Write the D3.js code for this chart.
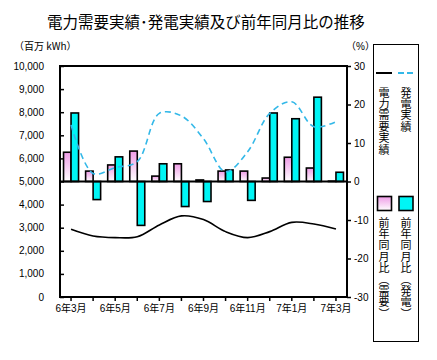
<!DOCTYPE html>
<html>
<head>
<meta charset="utf-8">
<script src="https://cdn.jsdelivr.net/npm/d3@7"></script>
<style>
  body { margin: 0; background: #fff; }
  svg { display: block; }
  text { font-family: "Liberation Sans", "Noto Sans CJK JP", sans-serif; fill: #000; }
  .jp { font-family: "Noto Sans CJK JP", sans-serif; }
</style>
</head>
<body>
<svg id="chart" width="437" height="360"></svg>
<script>
// months shown on the category axis
const months = ["6年3月", "6年4月", "6年5月", "6年6月", "6年7月", "6年8月", "6年9月",
                "6年10月", "6年11月", "6年12月", "7年1月", "7年2月", "7年3月"];
// 電力需要実績 (百万kWh)
const demand = [2930, 2640, 2570, 2610, 3120, 3510, 3350, 2830, 2570, 2830, 3230, 3160, 2940];
// 発電実績 (百万kWh)
const generation = [7450, 5350, 5600, 5860, 7950, 7840, 6850, 5420, 6290, 7950, 8450, 7370, 7590];
// 前年同月比 (%)
const demandYoY = [7.6, 2.7, 4.3, 7.9, 1.4, 4.6, 0.4, 2.7, 2.7, 0.9, 6.3, 3.5, 0.1];
const genYoY = [17.8, -4.7, 6.4, -11.4, 4.6, -6.5, -5.2, 3.0, -4.9, 17.8, 16.3, 21.9, 2.4];

const leftTicks = [0, 1000, 2000, 3000, 4000, 5000, 6000, 7000, 8000, 9000, 10000];
const rightTicks = [-30, -20, -10, 0, 10, 20, 30];

const svg = d3.select("#chart");
const plot = { left: 60, right: 347, top: 66, bottom: 297 };

const x = d3.scaleBand().domain(months).range([plot.left, plot.right])
  .paddingInner(0.32).paddingOuter(0.16);
const xSub = d3.scaleBand().domain(["d", "g"]).range([0, x.bandwidth()]);
const yL = d3.scaleLinear().domain([0, 10000]).range([plot.bottom, plot.top]);
const yR = d3.scaleLinear().domain([-30, 30]).range([plot.bottom, plot.top]);
const cx = m => x(m) + x.bandwidth() / 2;

// pink gradient
const defs = svg.append("defs");
const grad = defs.append("linearGradient").attr("id", "pinkGrad")
  .attr("x1", 0).attr("y1", 0).attr("x2", 0).attr("y2", 1);
grad.append("stop").attr("offset", "0%").attr("stop-color", "#ee9be6");
grad.append("stop").attr("offset", "100%").attr("stop-color", "#ffffff");

// title
svg.append("text").attr("class", "jp")
  .attr("x", 206).attr("y", 28).attr("text-anchor", "middle")
  .style("font-size", "15.5px")
  .text("電力需要実績･発電実績及び前年同月比の推移");

svg.append("text").attr("class", "jp")
  .attr("x", 14).attr("y", 50).style("font-size", "10px").text("（百万 kWh）");
svg.append("text")
  .attr("x", 346).attr("y", 50).style("font-size", "10px").text("（%）");

// bars
const bars = svg.append("g");
months.forEach((m, i) => {
  [["d", demandYoY[i], "url(#pinkGrad)"], ["g", genYoY[i], "#00f5f5"]].forEach(([k, v, fill]) => {
    bars.append("rect")
      .attr("x", x(m) + xSub(k))
      .attr("y", Math.min(yR(v), yR(0)))
      .attr("width", xSub.bandwidth())
      .attr("height", Math.abs(yR(v) - yR(0)))
      .attr("fill", fill)
      .attr("stroke", "#000")
      .attr("stroke-width", 1.6);
  });
});

// zero line of the % axis
svg.append("line")
  .attr("x1", plot.left).attr("x2", plot.right)
  .attr("y1", yR(0)).attr("y2", yR(0))
  .attr("stroke", "#000").attr("stroke-width", 2);

// lines
const line = d3.line().x((d, i) => cx(months[i])).y(d => yL(d)).curve(d3.curveCatmullRom.alpha(0.5));
svg.append("path").datum(generation).attr("d", line)
  .attr("fill", "none").attr("stroke", "#33b8e8").attr("stroke-width", 1.6)
  .attr("stroke-dasharray", "6,4");
svg.append("path").datum(demand).attr("d", line)
  .attr("fill", "none").attr("stroke", "#000").attr("stroke-width", 1.6);

// frame
svg.append("rect")
  .attr("x", plot.left).attr("y", plot.top)
  .attr("width", plot.right - plot.left).attr("height", plot.bottom - plot.top)
  .attr("fill", "none").attr("stroke", "#000").attr("stroke-width", 2);

// left axis
const axL = svg.append("g").attr("transform", `translate(${plot.left},0)`)
  .call(d3.axisRight(yL).tickValues(leftTicks).tickSize(4).tickFormat(""));
axL.select(".domain").remove();
axL.selectAll("line").attr("stroke-width", 1.5);
svg.append("g").selectAll("text").data(leftTicks).join("text")
  .attr("x", 44).attr("y", d => yL(d) + 3.5).attr("text-anchor", "end")
  .style("font-size", "10px").text(d3.format(","));

// right axis
const axR = svg.append("g").attr("transform", `translate(${plot.right},0)`)
  .call(d3.axisRight(yR).tickValues(rightTicks).tickSize(4).tickPadding(3).tickFormat(d => d));
axR.select(".domain").remove();
axR.selectAll("line").attr("stroke-width", 1.5);
axR.selectAll("text").style("font-size", "10px").attr("font-family", null);

// x axis
const axB = svg.append("g").attr("transform", `translate(0,${plot.bottom})`)
  .call(d3.axisBottom(x).tickSize(4).tickPadding(4)
    .tickFormat((d, i) => i % 2 === 0 ? d : ""));
axB.select(".domain").remove();
axB.selectAll("line").attr("stroke-width", 1.5);
axB.selectAll("text").style("font-size", "10px").attr("font-family", null);

// legend
const lg = svg.append("g");
lg.append("rect").attr("x", 373.5).attr("y", 44.5).attr("width", 45).attr("height", 297)
  .attr("fill", "#fff").attr("stroke", "#000").attr("stroke-width", 1);
lg.append("line").attr("x1", 376).attr("x2", 392).attr("y1", 73).attr("y2", 73)
  .attr("stroke", "#000").attr("stroke-width", 2);
lg.append("line").attr("x1", 398).attr("x2", 414).attr("y1", 73).attr("y2", 73)
  .attr("stroke", "#33b8e8").attr("stroke-width", 2).attr("stroke-dasharray", "6,3");
lg.append("rect").attr("x", 377.5).attr("y", 196.5).attr("width", 14).attr("height", 14)
  .attr("fill", "url(#pinkGrad)").attr("stroke", "#000").attr("stroke-width", 1.6);
lg.append("rect").attr("x", 399).attr("y", 196.5).attr("width", 14).attr("height", 14)
  .attr("fill", "#00f5f5").attr("stroke", "#000").attr("stroke-width", 1.6);

// vertical labels
const vtext = (tx, ty, s) => lg.append("text").attr("class", "jp")
  .attr("x", tx).attr("y", ty)
  .style("writing-mode", "vertical-rl")
  .style("font-size", "11px").style("letter-spacing", "0.4px")
  .text(s);
vtext(384, 87, "電力需要実績");
vtext(406, 87, "発電実績");
vtext(384, 217, "前年同月比（需要）");
vtext(406, 217, "前年同月比（発電）");
</script>
</body>
</html>
